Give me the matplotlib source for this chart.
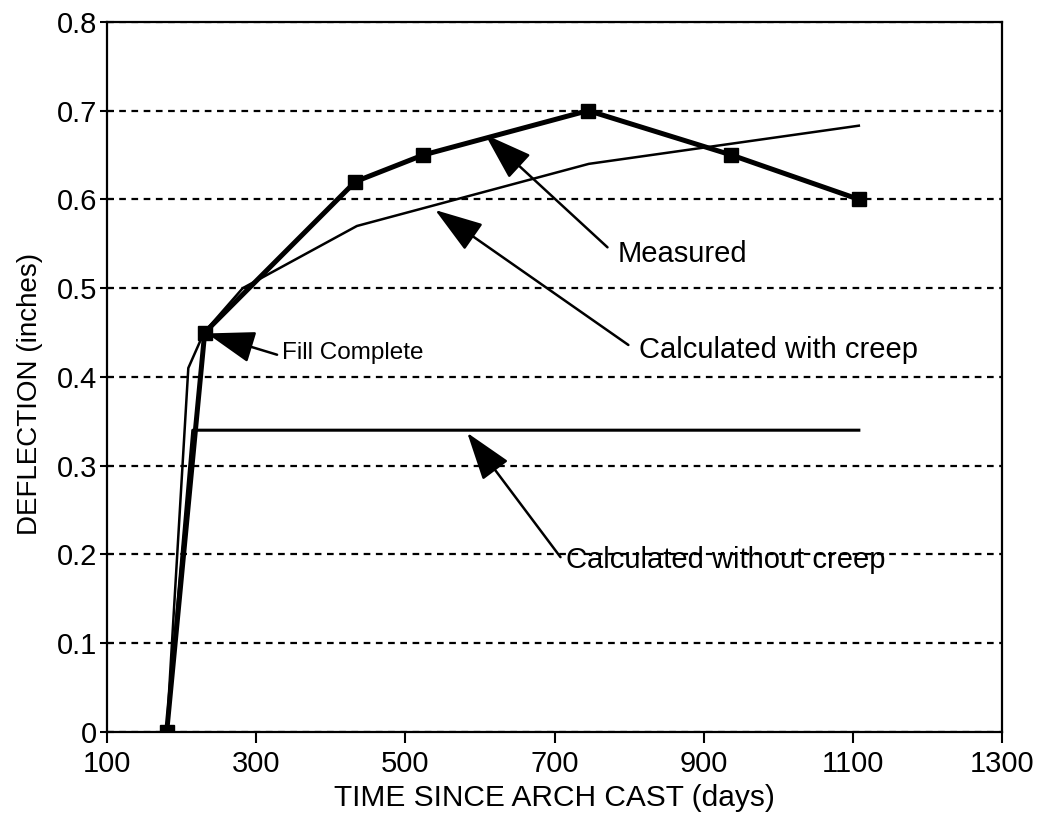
'''
Deflection vs time since arch cast
'''
import matplotlib
matplotlib.use('Agg')
import matplotlib.pyplot as plt

# measured deflection (squares)
measured_days = [180, 231, 433, 524, 745, 937, 1108]
measured_defl = [0.0, 0.45, 0.62, 0.65, 0.70, 0.65, 0.60]

# calculated with creep
creep_days = [180, 209, 230, 282, 435, 746, 1108]
creep_defl = [0.0, 0.41, 0.45, 0.50, 0.57, 0.64, 0.683]

# calculated without creep
nocreep_days = [180, 215, 1108]
nocreep_defl = [0.0, 0.34, 0.34]

x_ticks = [100, 300, 500, 700, 900, 1100, 1300]
y_ticks = [0, 0.1, 0.2, 0.3, 0.4, 0.5, 0.6, 0.7, 0.8]
y_tick_labels = ['0', '0.1', '0.2', '0.3', '0.4', '0.5', '0.6', '0.7', '0.8']

# (text, arrow tip, arrow tail, text position, size)
notes = [
    ('Measured', (607, 0.673), (771, 0.546), (784, 0.538), 21),
    ('Calculated with creep', (540, 0.588), (799, 0.436), (813, 0.430), 21),
    ('Calculated without creep', (583, 0.337), (708, 0.197), (715, 0.194), 21),
    ('Fill Complete', (234, 0.449), (328, 0.425), (335, 0.427), 17.5),
]

plt.rcParams['font.family'] = ['Liberation Sans', 'DejaVu Sans']

fig = plt.figure(figsize=(10.45, 8.17), dpi=100)
ax = fig.add_axes([0.1024, 0.104, 0.8565, 0.8693])

ax.plot(nocreep_days, nocreep_defl, color='black', lw=2.2, zorder=3)
ax.plot(creep_days, creep_defl, color='black', lw=1.8, zorder=3)
ax.plot(measured_days, measured_defl, color='black', lw=3.6, marker='s',
        markersize=10, zorder=4)

ax.set_xlim(100, 1300)
ax.set_ylim(0, 0.8)
ax.set_xticks(x_ticks)
ax.set_yticks(y_ticks)
ax.set_yticklabels(y_tick_labels)

ax.yaxis.grid(True, color='black', linestyle=(0, (3, 2.5)), lw=1.6)
ax.set_axisbelow(True)

for side in ax.spines.values():
    side.set_linewidth(1.6)

ax.tick_params(axis='x', direction='out', length=8, width=1.5, labelsize=21, pad=5)
ax.tick_params(axis='y', direction='inout', length=10, width=1.5, labelsize=21, pad=2)

ax.set_xlabel('TIME SINCE ARCH CAST (days)', fontsize=21.5, labelpad=4)
ax.set_ylabel('DEFLECTION (inches)', fontsize=20)
ax.yaxis.set_label_coords(-0.072, 0.476)

for label, tip, tail, pos, size in notes:
    ax.annotate('', xy=tip, xytext=tail,
                arrowprops=dict(arrowstyle='-|>,head_length=1.5,head_width=0.5',
                                mutation_scale=20, lw=1.8, color='black',
                                shrinkA=0, shrinkB=0), zorder=5)
    ax.text(pos[0], pos[1], label, fontsize=size, ha='left', va='center', zorder=6)

fig.savefig('out.png', dpi=100)
